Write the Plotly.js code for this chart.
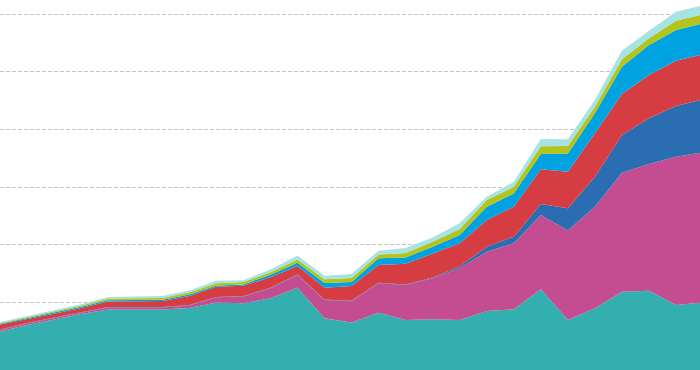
<!DOCTYPE html>
<html>
<head>
<meta charset="utf-8">
<script src="https://cdn.plot.ly/plotly-3.0.1.min.js"></script>
<style>
html,body{margin:0;padding:0;background:#fff;}
#chart{width:700px;height:370px;}
</style>
</head>
<body>
<div id="chart"></div>
<script>
const years = [1990,1991,1992,1993,1994,1995,1996,1997,1998,1999,2000,2001,2002,2003,2004,2005,2006,2007,2008,2009,2010,2011,2012,2013,2014,2015,2016];

const seriesTeal    = [74.7,80.3,85.1,89.8,93.8,93.8,93.8,95.1,99.8,99.1,103.5,112.7,86.1,82.5,91.0,84.6,85.2,84.6,92.4,93.9,111.3,84.6,94.8,109.2,110.1,97.7,99.9];
const seriesPink    = [1.3,1.3,1.3,1.4,1.6,1.6,1.7,2.2,4.5,5.9,8.7,11.0,15.9,18.4,25.5,30.4,35.6,44.9,51.5,57.3,64.5,77.7,88.2,103.3,110.0,128.7,130.4];
const seriesBlue    = [0.3,0.3,0.3,0.3,0.4,0.4,0.4,0.3,0.3,0.4,0.4,0.4,0.4,0.4,0.4,0.5,0.7,1.5,4.3,5.7,9.5,19.3,26.0,32.7,39.7,44.0,45.9];
const seriesRed     = [4.3,3.2,3.3,3.5,4.9,5.1,5.2,7.9,8.9,8.9,9.1,7.4,10.2,12.8,15.5,17.9,21.0,20.2,23.2,26.0,30.1,31.8,37.7,35.6,37.6,39.3,39.0];
const seriesSky     = [0.7,0.9,0.9,1.0,1.1,1.1,1.0,1.3,1.0,1.2,2.2,2.9,4.1,3.5,5.8,5.5,5.7,7.2,11.5,11.6,13.3,15.8,17.4,23.7,26.0,26.6,27.0];
const seriesGreen   = [0.6,0.9,1.0,1.1,1.4,1.5,1.6,2.0,2.0,2.0,2.2,2.8,3.3,3.5,3.3,3.9,4.3,5.2,5.8,5.7,6.8,6.5,5.7,6.4,5.8,8.1,7.8];
const seriesCyan    = [0.9,0.9,1.0,1.1,1.4,1.4,1.7,1.5,2.2,1.7,2.4,3.5,3.0,3.5,3.3,4.3,3.8,4.9,2.9,4.3,6.3,5.8,5.8,7.5,6.6,7.8,7.9];

const seriesNames  = ['A','B','C','D','E','F','G'];
const seriesColors = ['#32afae','#c44d92','#2a6db0','#d63d42','#00a3e0','#b5c31d','#a6e3e3'];
const allSeries = [seriesTeal,seriesPink,seriesBlue,seriesRed,seriesSky,seriesGreen,seriesCyan];

const traces = allSeries.map((vals,k)=>({
  x: years,
  y: vals,
  name: seriesNames[k],
  type: 'scatter',
  mode: 'lines',
  stackgroup: 'one',
  line: {width: 0, color: seriesColors[k], shape: 'linear'},
  fillcolor: seriesColors[k],
  hoverinfo: 'skip'
}));

const layout = {
  width: 700,
  height: 370,
  margin: {l:0, r:0, t:0, b:0, pad:0},
  paper_bgcolor: '#ffffff',
  plot_bgcolor: '#ffffff',
  showlegend: false,
  xaxis: {
    range: [1990, 1990 + 700/27.04],
    showgrid: false,
    zeroline: false,
    showticklabels: false,
    showline: false,
    ticks: ''
  },
  yaxis: {
    range: [41.2, 362.4],
    tick0: 0,
    dtick: 50,
    showgrid: true,
    gridcolor: '#c4c4c4',
    gridwidth: 1,
    griddash: '4px,2px',
    zeroline: false,
    showticklabels: false,
    showline: false,
    ticks: ''
  }
};

Plotly.newPlot('chart', traces, layout, {staticPlot: true, displayModeBar: false});
</script>
</body>
</html>
